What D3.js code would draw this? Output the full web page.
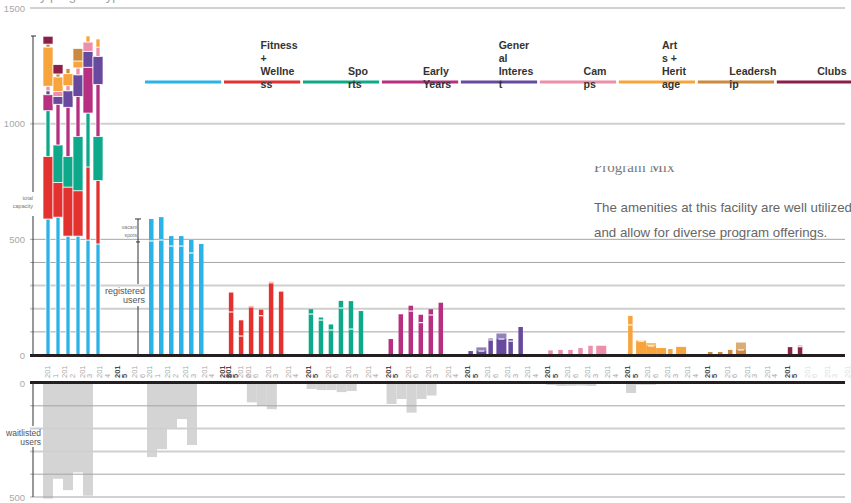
<!DOCTYPE html>
<html>
<head>
<meta charset="utf-8">
<script src="https://cdn.jsdelivr.net/npm/d3@7"></script>
<style>
  html, body { margin: 0; padding: 0; background: #fff; }
  svg { display: block; font-family: "Liberation Sans", Arial, sans-serif; }
</style>
</head>
<body>
<svg id="chart" width="851" height="503"></svg>
<script>
// ---- data ----------------------------------------------------------------
const years = ["2011", "2012", "2013", "2014", "2015", "2016"];
const programs = ["Aquatics", "Fitness + Wellness", "Sports", "Early Years", "General Interest",
                  "Camps", "Arts + Heritage", "Leadership", "Clubs"];
const programColors = ["#2bb3e8", "#e3312f", "#0ea98a", "#b62f80", "#674a9e",
                       "#ec8fab", "#f8a43c", "#cb8a3d", "#8c1f47"];
// header labels as they wrap inside their narrow boxes
const programLabelLines = [
  [], ["Fitness", "+", "Wellne", "ss"], ["Spo", "rts"], ["Early", "Years"],
  ["Gener", "al", "Interes", "t"], ["Cam", "ps"], ["Art", "s +", "Herit", "age"],
  ["Leadersh", "ip"], ["Clubs"]
];

// total spots offered, per program and year
const capacity = [
  [588, 596, 514, 514, 497, 480],
  [270, 150, 212, 196, 316, 274],
  [198, 162, 132, 234, 233, 190],
  [69, 176, 213, 174, 198, 226],
  [17, 33, 71, 93, 69, 121],
  [20, 22, 22, 30, 40, 40],
  [169, 63, 52, 30, 26, 35],
  [13, 13, 22, 54, 0, 0],
  [34, 40, 0, 0, 0, 0]
];
// registered users, per program and year
const registered = [
  [493, 497, 471, 471, 441, 480],
  [186, 82, 208, 170, 312, 274],
  [177, 151, 108, 203, 112, 190],
  [69, 176, 190, 140, 173, 226],
  [17, 17, 65, 69, 60, 121],
  [20, 22, 22, 30, 40, 40],
  [130, 60, 39, 30, 26, 35],
  [13, 13, 22, 22, 0, 0],
  [34, 36, 0, 0, 0, 0]
];
// waitlisted users, per program and year
const waitlisted = [
  [325, 290, 197, 158, 272, 0],
  [5, 5, 85, 101, 115, 0],
  [26, 31, 31, 40, 35, 0],
  [92, 70, 130, 70, 55, 0],
  [3, 0, 4, 4, 4, 0],
  [9, 13, 12, 11, 13, 0],
  [44, 8, 8, 5, 0, 0],
  [3, 3, 3, 3, 0, 0],
  [0, 0, 0, 0, 0, 0]
];
// which pieces are drawn as full-width blocks (1) instead of slim bars (0)
const wideInTotal = [
  [0, 0, 0, 0, 0, 0],
  [1, 1, 1, 1, 0, 0],
  [0, 1, 1, 1, 0, 1],
  [1, 0, 0, 0, 1, 0],
  [0, 1, 1, 1, 1, 1],
  [0, 1, 0, 0, 1, 0],
  [1, 1, 1, 1, 0, 0],
  [0, 0, 0, 1, 0, 0],
  [1, 1, 0, 0, 0, 0]
];
const wideInProgram = [
  [0, 0, 0, 0, 0, 0],
  [0, 0, 0, 0, 0, 0],
  [0, 0, 0, 0, 0, 0],
  [0, 0, 0, 0, 0, 0],
  [0, 1, 0, 1, 0, 0],
  [0, 0, 0, 0, 0, 1],
  [0, 1, 1, 1, 0, 1],
  [0, 0, 0, 1, 0, 0],
  [0, 0, 0, 0, 0, 0]
];

const upperGrid = [100, 200, 300, 400, 500, 1000, 1500];
const upperTickLabels = [0, 500, 1000, 1500];
const lowerGrid = [100, 200, 300, 400, 500];
const lowerTickLabels = [0, 500];
const programTickYears = ["2015", "2016", "2013", "2014"];

const titleText = "Use by program type";
const sectionTitle = "Program Mix";
const sectionBody = ["The amenities at this facility are well utilized",
                     "and allow for diverse program offerings."];

// ---- scales --------------------------------------------------------------
const svg = d3.select("#chart");
const yUp = d3.scaleLinear().domain([0, 1500]).range([355, 8]);
const yDown = d3.scaleLinear().domain([0, 500]).range([383, 497]);
const xProgram = d3.scaleBand().domain(programs).range([149, 149 + 9 * 79.85]);
const xYear = d3.scaleBand().domain(years).range([0, 60]);
const xTotal = d3.scaleBand().domain(years).range([43, 103]);
const xLegend = d3.scaleBand().domain(programs).range([145, 853]).paddingInner(0.035);
const xTickTotal = d3.scalePoint().domain(years).range([50, 137]);
const xTickAquatics = d3.scalePoint().domain(years).range([152, 243]);
const xTickProgram = d3.scalePoint().domain(programTickYears).range([0, 60]);

const gridLeft = 30, gridRight = 845;
const heavy = v => v === 200 || v === 300 || v === 1000;

// ---- clipped page title at the very top ---------------------------------
svg.append("text").attr("x", 6).attr("y", 0)
  .attr("font-size", 13).attr("fill", "#a0a0a0").text(titleText);

// ---- upper gridlines ------------------------------------------------------
svg.append("g").selectAll("line").data(upperGrid).join("line")
  .attr("x1", gridLeft).attr("x2", gridRight)
  .attr("y1", d => yUp(d)).attr("y2", d => yUp(d))
  .attr("stroke", d => heavy(d) ? "#cfcfcf" : "#a5a5a5")
  .attr("stroke-width", d => heavy(d) ? 2 : 1);

svg.append("g").selectAll("text").data(upperTickLabels).join("text")
  .attr("x", 25).attr("y", d => yUp(d) + 3.5)
  .attr("text-anchor", "end").attr("font-size", 9.5).attr("fill", "#a8a8a8")
  .text(d => d);

// ---- lower gridlines (drawn after the grey bars further down) ------------
const lowerGridG = () => {
  svg.append("g").selectAll("line").data(lowerGrid).join("line")
    .attr("x1", gridLeft).attr("x2", gridRight)
    .attr("y1", d => yDown(d)).attr("y2", d => yDown(d))
    .attr("stroke", d => heavy(d) ? "#cfcfcf" : "#a5a5a5")
    .attr("stroke-width", d => heavy(d) ? 2 : 1);
};

svg.append("g").selectAll("text").data(lowerTickLabels).join("text")
  .attr("x", 25).attr("y", d => yDown(d) + 3.5)
  .attr("text-anchor", "end").attr("font-size", 9.5).attr("fill", "#a8a8a8")
  .text(d => d);

// ---- header legend band --------------------------------------------------
svg.append("g").selectAll("rect").data(programs).join("rect")
  .attr("x", d => xLegend(d)).attr("y", 80.5)
  .attr("width", xLegend.bandwidth()).attr("height", 3)
  .attr("fill", (d, i) => programColors[i]);

// each label box is centred a little right of its band and text is left-aligned in it
const labelG = svg.append("g").attr("font-weight", "bold").attr("font-size", 10.6).attr("fill", "#333");
programs.forEach((p, i) => {
  const lines = programLabelLines[i];
  const n = lines.length;
  if (!n) return;
  const lastBase = n > 1 ? 88 : 75;
  const texts = lines.map((ln, j) =>
    labelG.append("text").attr("y", lastBase - 13 * (n - 1 - j)).text(ln));
  const boxW = d3.max(texts, t => t.node().getComputedTextLength());
  const boxCenter = xLegend(p) + xLegend.bandwidth() / 2 + 17;
  texts.forEach(t => t.attr("x", boxCenter - boxW / 2));
});

// ---- stacked totals (all programs per year) ------------------------------
const totalsG = svg.append("g");
years.forEach((yr, yi) => {
  let base = 0;
  const cx = xTotal(yr) + xTotal.bandwidth() / 2;
  programs.forEach((p, pi) => {
    const v = capacity[pi][yi];
    if (v > 0) {
      const w = wideInTotal[pi][yi] ? 10 : 4;
      totalsG.append("rect")
        .attr("x", cx - w / 2).attr("width", w)
        .attr("y", yUp(base + v)).attr("height", yUp(base) - yUp(base + v))
        .attr("fill", programColors[pi]).attr("stroke", "#fff").attr("stroke-width", 0.7);
    }
    base += v;
  });
});

// ---- per-program bars -----------------------------------------------------
const barsG = svg.append("g");
programs.forEach((p, pi) => {
  years.forEach((yr, yi) => {
    const cap = capacity[pi][yi];
    if (cap <= 0) return;
    const reg = registered[pi][yi];
    const wide = wideInProgram[pi][yi];
    const x = xProgram(p) + xYear(yr) + (wide ? -2 : 0);
    const w = wide ? 10 : 4.5;
    barsG.append("rect").attr("x", x).attr("width", w)
      .attr("y", yUp(reg)).attr("height", yUp(0) - yUp(reg))
      .attr("fill", programColors[pi]);
    if (cap > reg) {
      barsG.append("rect").attr("x", x).attr("width", w)
        .attr("y", yUp(cap)).attr("height", yUp(reg) - yUp(cap))
        .attr("fill", programColors[pi]).attr("fill-opacity", wide ? 0.7 : 1);
      barsG.append("line")
        .attr("x1", x + (wide ? 2 : 0)).attr("x2", x + w - (wide ? 2 : 0))
        .attr("y1", yUp(reg)).attr("y2", yUp(reg))
        .attr("stroke", "#fff").attr("stroke-opacity", 0.85).attr("stroke-width", 1.3);
    }
  });
});

// ---- waitlist (downward, grey) ------------------------------------------
const waitG = svg.append("g").attr("fill", "#d4d4d5");
years.forEach((yr, yi) => {
  const total = d3.sum(programs, (p, pi) => waitlisted[pi][yi]);
  if (total > 0) {
    waitG.append("rect").attr("x", xTotal(yr)).attr("width", xTotal.bandwidth())
      .attr("y", yDown(0)).attr("height", yDown(total) - yDown(0));
  }
});
programs.forEach((p, pi) => {
  years.forEach((yr, yi) => {
    const v = waitlisted[pi][yi];
    if (v <= 0) return;
    waitG.append("rect").attr("x", xProgram(p) + xYear(yr) - 2).attr("width", 10)
      .attr("y", yDown(0)).attr("height", yDown(v) - yDown(0));
  });
});
lowerGridG();

// ---- baselines -----------------------------------------------------------
svg.append("line").attr("x1", gridLeft).attr("x2", gridRight)
  .attr("y1", yUp(0) + 0.5).attr("y2", yUp(0) + 0.5).attr("stroke", "#231f20").attr("stroke-width", 3);
svg.append("line").attr("x1", gridLeft).attr("x2", gridRight)
  .attr("y1", yDown(0) - 0.5).attr("y2", yDown(0) - 0.5).attr("stroke", "#231f20").attr("stroke-width", 3);

// ---- year tick labels (rotated, wrapped after "201") --------------------
const tickG = svg.append("g").attr("font-size", 7.5);
function yearTick(x, yr, faded) {
  const bold = yr === "2015";
  const t = tickG.append("text")
    .attr("transform", `translate(${x},378) rotate(-90)`)
    .attr("fill", faded ? "#dcdcdc" : (bold ? "#4a4a4a" : "#a9a9a9"))
    .attr("font-weight", bold ? "bold" : "normal");
  t.append("tspan").attr("x", 0).attr("dy", 0).text(yr.slice(0, 3));
  t.append("tspan").attr("x", 0).attr("dy", 7.5).text(yr.slice(3));
}
years.forEach(yr => yearTick(xTickTotal(yr), yr, false));
years.forEach(yr => yearTick(xTickAquatics(yr), yr, false));
programs.slice(1).forEach((p, i) => {
  programTickYears.forEach((yr, k) => {
    yearTick(xProgram(p) + 2 + xTickProgram(yr), yr, i === programs.length - 2 && k > 0);
  });
});

// ---- bracket annotations ---------------------------------------------------
const annG = svg.append("g").attr("stroke", "#333").attr("stroke-width", 1);
const maxTotal = d3.max(years, (yr, yi) => d3.sum(programs, (p, pi) => capacity[pi][yi]));
// total capacity
annG.append("line").attr("x1", 33).attr("x2", 33).attr("y1", yUp(maxTotal)).attr("y2", 192);
annG.append("line").attr("x1", 33).attr("x2", 33).attr("y1", 216).attr("y2", yUp(0));
annG.append("line").attr("x1", 31).attr("x2", 36).attr("y1", yUp(maxTotal)).attr("y2", yUp(maxTotal));
// waitlisted
annG.append("line").attr("x1", 33).attr("x2", 33).attr("y1", yDown(0)).attr("y2", 426);
annG.append("line").attr("x1", 33).attr("x2", 33).attr("y1", 447).attr("y2", yDown(500));
// vacant spots / registered users on the first program bar
const firstCap = capacity[0][0], firstReg = registered[0][0];
annG.append("line").attr("x1", 138).attr("x2", 138).attr("y1", yUp(firstCap)).attr("y2", yUp(firstReg));
annG.append("line").attr("x1", 135).attr("x2", 141).attr("y1", yUp(firstCap)).attr("y2", yUp(firstCap));
annG.append("line").attr("x1", 136).attr("x2", 140).attr("y1", yUp(firstReg) + 1).attr("y2", yUp(firstReg) + 1);
annG.append("line").attr("x1", 138).attr("x2", 138).attr("y1", yUp(firstReg)).attr("y2", 284);
annG.append("line").attr("x1", 138).attr("x2", 138).attr("y1", 306).attr("y2", yUp(0));

const note = (x, y, size, color, lines, lh) => {
  lines.forEach((ln, i) => svg.append("text").attr("x", x).attr("y", y + i * lh)
    .attr("text-anchor", "end").attr("font-size", size).attr("fill", color).text(ln));
};
note(33, 200, 5.5, "#777", ["total", "capacity"], 8);
note(137, 229, 5.2, "#777", ["vacant", "spots"], 7.5);
note(145, 294, 9, "#555", ["registered", "users"], 9);
note(41, 436, 8.5, "#555", ["waitlisted", "users"], 8.5);

// ---- side note -------------------------------------------------------------
svg.append("clipPath").attr("id", "headClip")
  .append("rect").attr("x", 580).attr("y", 166).attr("width", 271).attr("height", 40);
svg.append("text").attr("x", 594).attr("y", 172).attr("clip-path", "url(#headClip)")
  .attr("font-family", "'Liberation Serif', 'Times New Roman', serif")
  .attr("font-size", 15).attr("fill", "#7a7a7a").text(sectionTitle);
sectionBody.forEach((ln, i) => {
  svg.append("text").attr("x", 594).attr("y", 211.5 + i * 25)
    .attr("font-size", 13.3).attr("fill", "#666").text(ln);
});
</script>
</body>
</html>
